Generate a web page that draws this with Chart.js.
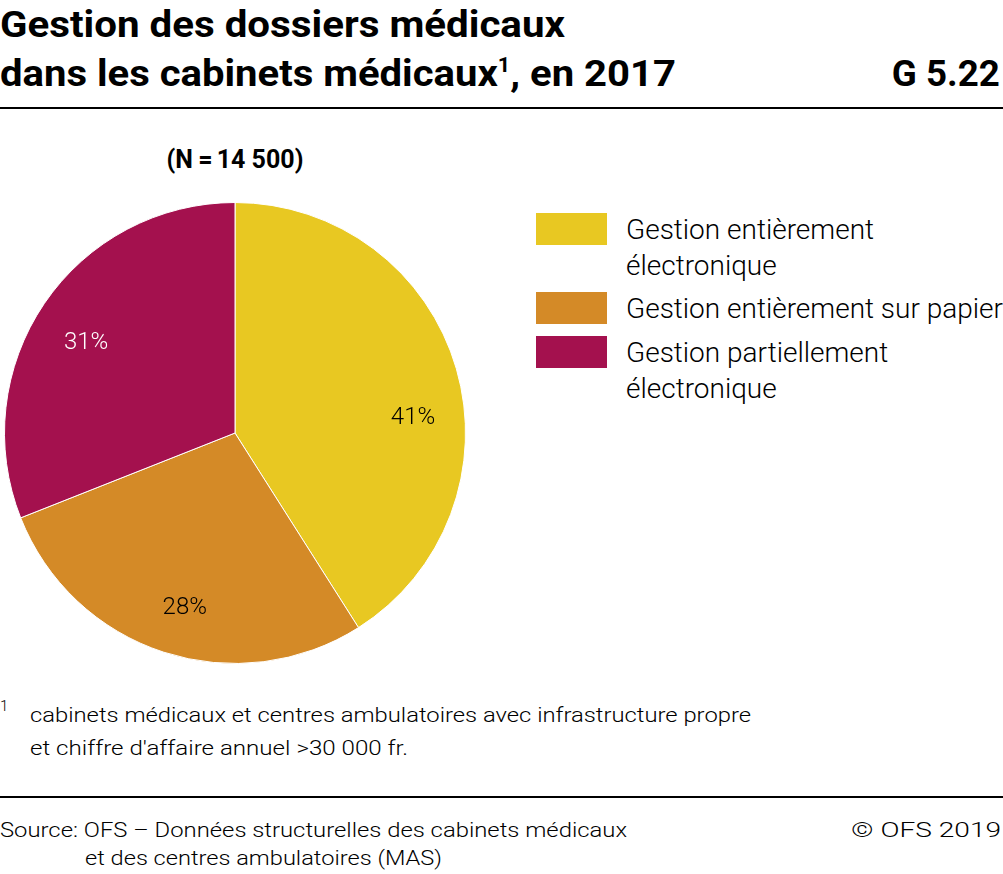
<!DOCTYPE html>
<html>
<head>
<meta charset="utf-8">
<script src="https://cdn.jsdelivr.net/npm/chart.js@4.4.1/dist/chart.umd.min.js"></script>
<style>
  html, body { margin: 0; padding: 0; background: #fff; }
  body { width: 1003px; height: 874px; position: relative; overflow: hidden; font-family: Roboto, "Noto Sans", sans-serif; color: #000; }
  .abs { position: absolute; white-space: nowrap; }
  .fit { transform-origin: 0 0; display: inline-block; }
  .fitr { transform-origin: 100% 0; display: inline-block; }
  #title { left: 0; top: 0; font-weight: 700; font-size: 37px; line-height: 49px; }
  #code { right: 3px; top: 49px; font-weight: 700; font-size: 37px; line-height: 49px; }
  .rule { position: absolute; left: 0; width: 1003px; height: 2px; background: #000; }
  #ntext { left: 0; width: 470px; top: 145px; text-align: center; font-weight: 700; font-size: 25px; }
  #chartbox { position: absolute; left: 4px; top: 202px; width: 462px; height: 462px; }
  .legsw { position: absolute; left: 536px; width: 71px; height: 32px; }
  .legtx { position: absolute; left: 626px; font-weight: 300; font-size: 28px; line-height: 36px; white-space: nowrap; }
  .small { font-weight: 300; font-size: 21px; line-height: 32px; }
</style>
</head>
<body>
<div id="title" class="abs"><span class="fit" data-w="565">Gestion des dossiers médicaux</span><br><span class="fit" data-w="676">dans les cabinets médicaux<sup style="font-size:20px;vertical-align:14px;line-height:0">1</sup>, en 2017</span></div>
<div id="code" class="abs"><span class="fitr" data-w="108">G 5.22</span></div>
<div class="rule" style="top:107px"></div>
<div id="ntext" class="abs"><span id="nlabel"></span></div>
<div id="chartbox"><canvas id="c" width="462" height="462"></canvas></div>
<div id="legend"></div>
<div class="abs small" style="left:0; top:696px; font-size:15px; line-height:20px; color:#000;">1</div>
<div class="abs small" style="left:30px; top:699px;"><span class="fit" data-w="721">cabinets médicaux et centres ambulatoires avec infrastructure propre</span></div>
<div class="abs small" style="left:30px; top:732px;"><span class="fit" data-w="378">et chiffre d'affaire annuel &gt;30 000 fr.</span></div>
<div class="rule" style="top:796px"></div>
<div class="abs small" style="left:0; top:814px;"><span class="fit" data-w="627">Source: OFS – Données structurelles des cabinets médicaux</span></div>
<div class="abs small" style="left:85px; top:842px;"><span class="fit" data-w="357">et des centres ambulatoires (MAS)</span></div>
<div class="abs small" style="right:2px; top:814px;"><span class="fitr" data-w="150">© OFS 2019</span></div>

<script>
// ---- Data ----
const categories = ["Gestion entièrement électronique", "Gestion entièrement sur papier", "Gestion partiellement électronique"];
const legendLines = [["Gestion entièrement", "électronique"], ["Gestion entièrement sur papier"], ["Gestion partiellement", "électronique"]];
const shares = [41, 28, 31];
const sampleSize = "(N = 14 500)";
const colors = ["#E8C822", "#D48A27", "#A4114E"];
const labelColors = ["#000000", "#000000", "#FFFFFF"];
const labelAngleShift = [11.5, -2, -3]; // degrees, label placement tweak
const labelRadiusFrac = [0.775, 0.79, 0.755];

document.getElementById('nlabel').innerHTML = sampleSize.replace(/ = /, '<span style="letter-spacing:-1px"> = </span>');

// Legend
const legendTops = [213, 292, 336];
const legend = document.getElementById('legend');
categories.forEach((c, i) => {
  const sw = document.createElement('div');
  sw.className = 'legsw';
  sw.style.top = legendTops[i] + 'px';
  sw.style.background = colors[i];
  legend.appendChild(sw);
  const tx = document.createElement('div');
  tx.className = 'legtx';
  tx.style.top = (legendTops[i] - 1) + 'px';
  tx.innerHTML = legendLines[i].join('<br>');
  legend.appendChild(tx);
});

// Fit condensed widths
document.querySelectorAll('.fit, .fitr').forEach(el => {
  const target = parseFloat(el.dataset.w);
  const actual = el.getBoundingClientRect().width;
  if (actual > 0) el.style.transform = 'scaleX(' + (target / actual) + ')';
});

const labelPlugin = {
  id: 'sliceLabels',
  afterDatasetsDraw(chart) {
    const ctx = chart.ctx;
    const meta = chart.getDatasetMeta(0);
    ctx.save();
    ctx.font = '300 24px Roboto';
    ctx.textAlign = 'center';
    ctx.textBaseline = 'middle';
    meta.data.forEach((arc, i) => {
      const p = arc.getProps(['x', 'y', 'startAngle', 'endAngle', 'outerRadius'], true);
      const mid = (p.startAngle + p.endAngle) / 2 + labelAngleShift[i] * Math.PI / 180;
      const r = p.outerRadius * labelRadiusFrac[i];
      ctx.fillStyle = labelColors[i];
      ctx.fillText(shares[i] + '%', p.x + Math.cos(mid) * r, p.y + Math.sin(mid) * r);
    });
    ctx.restore();
  }
};

new Chart(document.getElementById('c'), {
  type: 'pie',
  data: {
    labels: categories,
    datasets: [{
      data: shares,
      backgroundColor: colors,
      borderColor: '#ffffff',
      borderWidth: 1
    }]
  },
  options: {
    responsive: false,
    animation: false,
    layout: { padding: 0 },
    plugins: { legend: { display: false }, tooltip: { enabled: false } }
  },
  plugins: [labelPlugin]
});
</script>
</body>
</html>
